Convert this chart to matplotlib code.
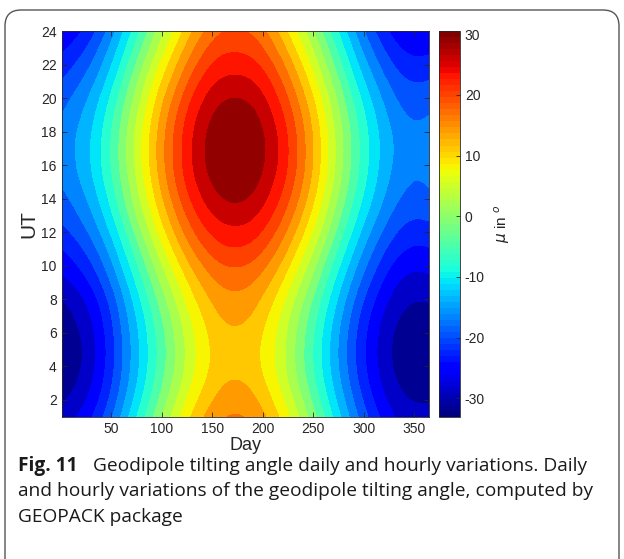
import numpy as np
import matplotlib.pyplot as plt
import matplotlib.tri as mtri
from matplotlib.colors import Normalize
from matplotlib.cm import ScalarMappable
from matplotlib.patches import FancyBboxPatch

plt.rcParams['font.family'] = ['Liberation Sans', 'DejaVu Sans']
plt.rcParams['axes.unicode_minus'] = False

# day of year and UT hours of the sampled grid
days = [1, 30, 60, 91, 121, 152, 172, 196, 227, 258, 288, 319, 349, 365]
hours = [1, 3, 5, 7, 9, 11, 13, 15, 17, 19, 21, 23, 24]

# geodipole tilt angle (deg), one row per day
mu = [
    [-28.6, -31.6, -32.5, -31.3, -28.0, -24.0, -20.2, -17.6, -16.7, -17.9, -20.8, -24.6, -26.7],
    [-24.2, -27.2, -28.2, -26.9, -23.5, -19.3, -15.4, -12.6, -11.7, -12.9, -15.9, -19.9, -22.0],
    [-14.6, -17.6, -18.5, -17.3, -14.1, -9.9, -5.7, -2.8, -1.8, -3.1, -6.3, -10.5, -12.7],
    [-3.1, -6.3, -7.3, -5.9, -2.5, 2.0, 6.5, 9.6, 10.7, 9.3, 5.9, 1.3, -1.0],
    [7.1, 3.7, 2.6, 4.1, 7.7, 12.6, 17.3, 20.7, 21.7, 20.3, 16.6, 11.8, 9.4],
    [14.1, 11.0, 9.9, 11.5, 14.9, 19.7, 24.4, 27.9, 29.0, 27.6, 24.0, 19.5, 17.2],
    [15.6, 12.6, 11.2, 13.1, 16.3, 21.1, 25.8, 29.5, 30.4, 29.2, 25.3, 20.8, 18.8],
    [13.7, 10.6, 9.5, 11.1, 14.5, 19.3, 24.0, 27.4, 28.6, 27.2, 23.6, 19.1, 16.8],
    [6.2, 2.8, 1.8, 3.2, 6.8, 11.6, 16.3, 19.7, 20.8, 19.3, 15.7, 10.9, 8.4],
    [-4.6, -7.8, -8.8, -7.4, -4.0, 0.5, 4.9, 8.0, 9.0, 7.7, 4.3, -0.2, -2.5],
    [-15.7, -18.6, -19.6, -18.3, -15.1, -10.9, -6.8, -3.9, -3.0, -4.2, -7.4, -11.6, -13.7],
    [-24.7, -27.4, -28.3, -27.1, -24.1, -20.2, -16.3, -13.6, -12.7, -13.9, -16.9, -20.8, -22.8],
    [-28.6, -31.3, -32.2, -31.0, -28.1, -24.3, -20.5, -17.9, -17.0, -18.2, -21.0, -24.9, -26.8],
    [-28.5, -31.4, -32.3, -31.1, -27.9, -24.1, -20.3, -17.6, -16.8, -17.9, -20.8, -24.7, -26.7],
]

cb_ticks = [-30, -20, -10, 0, 10, 20, 30]
zmin, zmax = -33.0, 30.5

D, H = np.meshgrid(days, hours, indexing='ij')
z = np.array(mu).ravel()

# smooth the sampled grid with matplotlib's cubic triangle interpolation
tri = mtri.Triangulation(D.ravel() / 365, H.ravel() / 24)
interp = mtri.CubicTriInterpolator(tri, z, kind='min_E')
tri_f, z_f = mtri.UniformTriRefiner(tri).refine_field(z, triinterpolator=interp, subdiv=4)
tri_f = mtri.Triangulation(tri_f.x * 365, tri_f.y * 24, tri_f.triangles)

cmap = plt.get_cmap('jet', 64)
norm = Normalize(zmin, zmax)
levels = np.linspace(zmin, zmax, 22)

fig = plt.figure(figsize=(6.24, 5.59), dpi=100)

# rounded caption frame
frame = FancyBboxPatch((0.05, -0.5), 6.14, 5.99, boxstyle='round,pad=0,rounding_size=0.16',
                       transform=fig.dpi_scale_trans, facecolor='none',
                       edgecolor='#555555', linewidth=1.0)
fig.add_artist(frame)

ax = fig.add_axes([0.0989, 0.2546, 0.5891, 0.6899])
ax.tricontourf(tri_f, z_f, levels=levels, cmap=cmap, norm=norm, extend='both')
ax.set_xlim(1, 365)
ax.set_ylim(1, 24)
ax.set_xticks(range(50, 351, 50))
ax.set_yticks(range(2, 25, 2))
ax.tick_params(direction='in', top=True, right=True, length=3.5, width=0.6,
               labelsize=10, colors='#262626')
for s in ax.spines.values():
    s.set_color('#262626')
    s.set_linewidth(0.6)
ax.set_xlabel('Day', fontsize=13, color='#262626', labelpad=1)
ax.set_ylabel('UT', fontsize=15, color='#262626', labelpad=2)

cax = fig.add_axes([0.704, 0.2546, 0.0332, 0.6899])
cb = fig.colorbar(ScalarMappable(norm=norm, cmap=cmap), cax=cax, ticks=cb_ticks)
cb.outline.set_edgecolor('#262626')
cb.outline.set_linewidth(0.6)
cax.tick_params(direction='in', length=3, width=0.6, labelsize=10, colors='#262626')
cb.set_label(r'$\mu$ in $^o$', fontsize=11, color='#262626', labelpad=5)

# caption
cap = dict(fontsize=13.8, family=['Open Sans', 'DejaVu Sans'], color='#1a1a1a', va='center')
fig.text(0.029, 0.1664, 'Fig. 11', fontweight='bold', **cap)
fig.text(0.149, 0.1664, 'Geodipole tilting angle daily and hourly variations. Daily', **cap)
fig.text(0.029, 0.1216, 'and hourly variations of the geodipole tilting angle, computed by', **cap)
fig.text(0.029, 0.0751, 'GEOPACK package', **cap)

fig.savefig('out.png', dpi=100)
